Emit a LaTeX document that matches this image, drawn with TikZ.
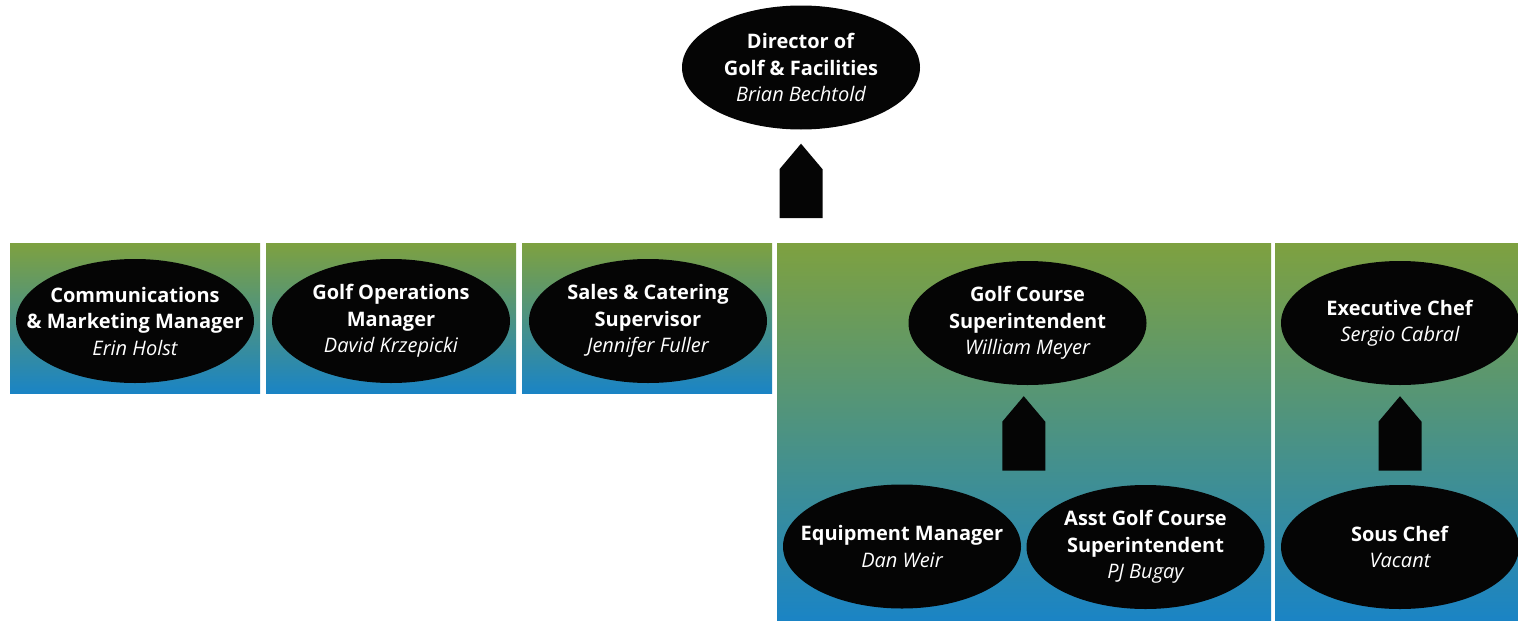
\documentclass[tikz,border=0pt]{standalone}
\usepackage{fontspec}
\setmainfont{Open Sans}
\usetikzlibrary{shapes.geometric,calc}
\definecolor{topgreen}{RGB}{126,161,64}
\definecolor{botblue}{RGB}{26,132,197}
\definecolor{ovalblack}{RGB}{5,5,5}
\tikzset{
  grad/.style={rectangle, draw=none, inner sep=0pt, anchor=north west, top color=topgreen, bottom color=botblue},
  oval/.style={ellipse, fill=ovalblack, text=white, inner sep=-60pt, minimum width=238pt, minimum height=124pt, align=center, font=\fontsize{20}{26.5}\selectfont},
  arrowfill/.style={fill=ovalblack}
}
\newcommand\nm[1]{{\itshape\mdseries #1}}
\newcommand\blockarr[1]{\fill[arrowfill] (#1) -- ++(21.5,25.5) -- ++(0,49) -- ++(-43,0) -- ++(0,-49) -- cycle;}
\begin{document}
\begin{tikzpicture}[x=1pt,y=-1pt]
\useasboundingbox (0,0) rectangle (1518,621);
% boxes
\node[grad, minimum width=250pt, minimum height=150pt] (b1) at (10,243) {};
\node[grad, minimum width=250pt, minimum height=150pt] (b2) at (266,243) {};
\node[grad, minimum width=250pt, minimum height=150pt] (b3) at (522,243) {};
\node[grad, minimum width=494pt, minimum height=378pt] (b4) at (777,243) {};
\node[grad, minimum width=243pt, minimum height=378pt] (b5) at (1275,243) {};
% ovals
\node[oval] (dir) at (801,67.5) {\textbf{Director of}\\\textbf{Golf \& Facilities}\\\nm{Brian Bechtold}};
\node[oval] (cmm) at (135,321) {\textbf{Communications}\\\textbf{\& Marketing Manager}\\\nm{Erin Holst}};
\node[oval] (gom) at (391,321) {\textbf{Golf Operations}\\\textbf{Manager}\\\nm{David Krzepicki}};
\node[oval] (scs) at (648,321) {\textbf{Sales \& Catering}\\\textbf{Supervisor}\\\nm{Jennifer Fuller}};
\node[oval] (gcs) at (1027.5,323) {\textbf{Golf Course}\\\textbf{Superintendent}\\\nm{William Meyer}};
\node[oval] (eqm) at (902,546.5) {\textbf{Equipment Manager}\\\nm{Dan Weir}};
\node[oval] (agc) at (1145.5,547) {\textbf{Asst Golf Course}\\\textbf{Superintendent}\\\nm{PJ Bugay}};
\node[oval] (exc) at (1400,323) {\textbf{Executive Chef}\\\nm{Sergio Cabral}};
\node[oval] (sou) at (1400,547) {\textbf{Sous Chef}\\\nm{Vacant}};
% block arrows
\coordinate (a1) at ($(dir.south)+(0,14)$);
\blockarr{a1}
\coordinate (a2m) at ($(eqm.center)!0.5!(agc.center)$);
\coordinate (a2s) at ($(gcs.south)+(0,11)$);
\coordinate (a2) at (a2m |- a2s);
\blockarr{a2}
\coordinate (a3) at ($(exc.south)+(0,11)$);
\blockarr{a3}
\end{tikzpicture}
\end{document}
